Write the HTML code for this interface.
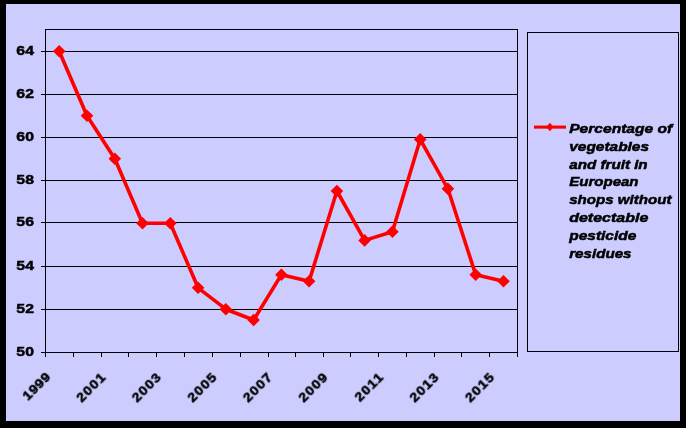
<!DOCTYPE html><html><head><meta charset="utf-8"><style>html,body{margin:0;padding:0;background:#000;}svg{display:block}text{font-family:"Liberation Sans",sans-serif;font-weight:bold;fill:#000;stroke:#000;stroke-width:0.5px;filter:url(#n)}</style></head><body>
<svg width="686" height="428" viewBox="0 0 686 428">
<defs><filter id="n" x="-20%" y="-20%" width="140%" height="140%" color-interpolation-filters="sRGB"><feOffset dx="0" dy="0"/></filter></defs>
<rect x="0" y="0" width="686" height="428" fill="#000"/>
<rect x="6" y="4" width="674" height="417" fill="#ccccff"/>
<g stroke="#000" stroke-width="1" shape-rendering="crispEdges" fill="none"><rect x="45.5" y="29.5" width="472" height="323"/><line x1="41" y1="352.5" x2="517" y2="352.5"/><line x1="41" y1="309.5" x2="517" y2="309.5"/><line x1="41" y1="266.5" x2="517" y2="266.5"/><line x1="41" y1="222.5" x2="517" y2="222.5"/><line x1="41" y1="180.5" x2="517" y2="180.5"/><line x1="41" y1="137.5" x2="517" y2="137.5"/><line x1="41" y1="94.5" x2="517" y2="94.5"/><line x1="41" y1="51.5" x2="517" y2="51.5"/><line x1="45.5" y1="352" x2="45.5" y2="357"/><line x1="73.5" y1="352" x2="73.5" y2="357"/><line x1="101.5" y1="352" x2="101.5" y2="357"/><line x1="128.5" y1="352" x2="128.5" y2="357"/><line x1="156.5" y1="352" x2="156.5" y2="357"/><line x1="184.5" y1="352" x2="184.5" y2="357"/><line x1="212.5" y1="352" x2="212.5" y2="357"/><line x1="240.5" y1="352" x2="240.5" y2="357"/><line x1="268.5" y1="352" x2="268.5" y2="357"/><line x1="295.5" y1="352" x2="295.5" y2="357"/><line x1="323.5" y1="352" x2="323.5" y2="357"/><line x1="350.5" y1="352" x2="350.5" y2="357"/><line x1="378.5" y1="352" x2="378.5" y2="357"/><line x1="406.5" y1="352" x2="406.5" y2="357"/><line x1="434.5" y1="352" x2="434.5" y2="357"/><line x1="461.5" y1="352" x2="461.5" y2="357"/><line x1="489.5" y1="352" x2="489.5" y2="357"/><line x1="517.5" y1="352" x2="517.5" y2="357"/><rect x="527.5" y="32.5" width="151" height="319"/></g>
<text x="0" y="0" font-size="13.6" text-anchor="end" transform="translate(33.9 355.5) scale(1.16 1)">50</text>
<text x="0" y="0" font-size="13.6" text-anchor="end" transform="translate(33.9 312.5) scale(1.16 1)">52</text>
<text x="0" y="0" font-size="13.6" text-anchor="end" transform="translate(33.9 269.5) scale(1.16 1)">54</text>
<text x="0" y="0" font-size="13.6" text-anchor="end" transform="translate(33.9 225.5) scale(1.16 1)">56</text>
<text x="0" y="0" font-size="13.6" text-anchor="end" transform="translate(33.9 183.5) scale(1.16 1)">58</text>
<text x="0" y="0" font-size="13.6" text-anchor="end" transform="translate(33.9 140.5) scale(1.16 1)">60</text>
<text x="0" y="0" font-size="13.6" text-anchor="end" transform="translate(33.9 97.5) scale(1.16 1)">62</text>
<text x="0" y="0" font-size="13.6" text-anchor="end" transform="translate(33.9 54.5) scale(1.16 1)">64</text>
<text x="0" y="0" font-size="12.4" letter-spacing="0.5" text-anchor="end" transform="translate(51.6 377.5) rotate(-45) scale(1.13 1)">1999</text>
<text x="0" y="0" font-size="12.4" letter-spacing="1.1" text-anchor="end" transform="translate(107.1 377.5) rotate(-45) scale(1.13 1)">2001</text>
<text x="0" y="0" font-size="12.4" letter-spacing="1.1" text-anchor="end" transform="translate(162.6 377.5) rotate(-45) scale(1.13 1)">2003</text>
<text x="0" y="0" font-size="12.4" letter-spacing="1.1" text-anchor="end" transform="translate(218.2 377.5) rotate(-45) scale(1.13 1)">2005</text>
<text x="0" y="0" font-size="12.4" letter-spacing="1.1" text-anchor="end" transform="translate(273.7 377.5) rotate(-45) scale(1.13 1)">2007</text>
<text x="0" y="0" font-size="12.4" letter-spacing="1.1" text-anchor="end" transform="translate(329.2 377.5) rotate(-45) scale(1.13 1)">2009</text>
<text x="0" y="0" font-size="12.4" letter-spacing="1.1" text-anchor="end" transform="translate(384.8 377.5) rotate(-45) scale(1.13 1)">2011</text>
<text x="0" y="0" font-size="12.4" letter-spacing="1.1" text-anchor="end" transform="translate(440.3 377.5) rotate(-45) scale(1.13 1)">2013</text>
<text x="0" y="0" font-size="12.4" letter-spacing="1.1" text-anchor="end" transform="translate(495.8 377.5) rotate(-45) scale(1.13 1)">2015</text>
<path d="M59.2 51.2 L87.0 115.8 L114.8 158.8 L142.5 223.2 L170.3 223.2 L198.1 287.8 L225.8 309.2 L253.6 320.0 L281.4 274.8 L309.1 281.3 L336.9 191.0 L364.6 240.4 L392.4 231.8 L420.2 139.4 L447.9 188.8 L475.7 274.8 L503.5 281.3" fill="none" stroke="#ff0000" stroke-width="3.6" stroke-linejoin="round"/>
<path d="M59.2 45.0 L65.5 51.2 L59.2 57.5 L52.9 51.2 Z" fill="#ff0000"/>
<path d="M87.0 109.5 L93.3 115.8 L87.0 122.0 L80.7 115.8 Z" fill="#ff0000"/>
<path d="M114.8 152.4 L121.1 158.8 L114.8 165.1 L108.5 158.8 Z" fill="#ff0000"/>
<path d="M142.5 216.9 L148.8 223.2 L142.5 229.6 L136.2 223.2 Z" fill="#ff0000"/>
<path d="M170.3 216.9 L176.6 223.2 L170.3 229.6 L164.0 223.2 Z" fill="#ff0000"/>
<path d="M198.1 281.4 L204.4 287.8 L198.1 294.1 L191.8 287.8 Z" fill="#ff0000"/>
<path d="M225.8 302.9 L232.1 309.2 L225.8 315.6 L219.5 309.2 Z" fill="#ff0000"/>
<path d="M253.6 313.7 L259.9 320.0 L253.6 326.3 L247.3 320.0 Z" fill="#ff0000"/>
<path d="M281.4 268.5 L287.7 274.8 L281.4 281.1 L275.1 274.8 Z" fill="#ff0000"/>
<path d="M309.1 275.0 L315.4 281.3 L309.1 287.6 L302.8 281.3 Z" fill="#ff0000"/>
<path d="M336.9 184.7 L343.2 191.0 L336.9 197.3 L330.6 191.0 Z" fill="#ff0000"/>
<path d="M364.6 234.1 L370.9 240.4 L364.6 246.7 L358.3 240.4 Z" fill="#ff0000"/>
<path d="M392.4 225.5 L398.7 231.8 L392.4 238.1 L386.1 231.8 Z" fill="#ff0000"/>
<path d="M420.2 133.1 L426.5 139.4 L420.2 145.7 L413.9 139.4 Z" fill="#ff0000"/>
<path d="M447.9 182.5 L454.2 188.8 L447.9 195.1 L441.6 188.8 Z" fill="#ff0000"/>
<path d="M475.7 268.5 L482.0 274.8 L475.7 281.1 L469.4 274.8 Z" fill="#ff0000"/>
<path d="M503.5 275.0 L509.8 281.3 L503.5 287.6 L497.2 281.3 Z" fill="#ff0000"/>
<line x1="534" y1="127.1" x2="566" y2="127.1" stroke="#ff0000" stroke-width="3.1"/>
<path d="M549.9 122.8 L553.6 127 L549.9 131.2 L546.2 127 Z" fill="#ff0000"/>
<text x="0" y="0" font-size="13" font-style="italic" transform="translate(569.2 132.8) scale(1.2 1)">Percentage of</text>
<text x="0" y="0" font-size="13" font-style="italic" transform="translate(569.2 150.7) scale(1.19 1)">vegetables</text>
<text x="0" y="0" font-size="13" font-style="italic" transform="translate(569.2 168.5) scale(1.17 1)">and fruit in</text>
<text x="0" y="0" font-size="13" font-style="italic" transform="translate(569.2 186.4) scale(1.158 1)">European</text>
<text x="0" y="0" font-size="13" font-style="italic" transform="translate(569.2 204.2) scale(1.162 1)">shops without</text>
<text x="0" y="0" font-size="13" font-style="italic" transform="translate(569.2 222.1) scale(1.231 1)">detectable</text>
<text x="0" y="0" font-size="13" font-style="italic" transform="translate(569.2 239.9) scale(1.192 1)">pesticide</text>
<text x="0" y="0" font-size="13" font-style="italic" transform="translate(569.2 257.8) scale(1.166 1)">residues</text>
</svg></body></html>
